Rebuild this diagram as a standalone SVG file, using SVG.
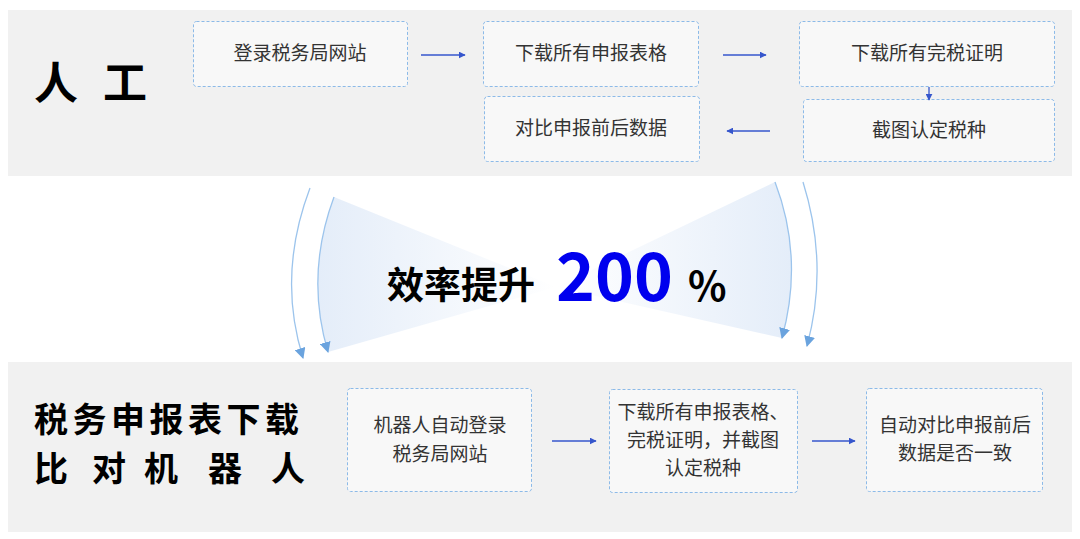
<svg xmlns="http://www.w3.org/2000/svg" width="1080" height="539" viewBox="0 0 1080 539">
<defs>
<style>
.panel{fill:#f1f1f1}
.box{fill:#f8f8f8;stroke:#8cbae8;stroke-width:1;stroke-dasharray:3 2}
.t{font-family:"Noto Sans CJK SC","Noto Sans",sans-serif;font-size:19px;fill:#333;text-anchor:middle}
.title{font-family:"Noto Sans CJK SC",sans-serif;font-weight:bold;fill:#000}
.conn{stroke:#3656cc;stroke-width:1.3;fill:none;marker-end:url(#ah)}
.arc{stroke:#9cc4ec;stroke-width:1.3;fill:none;marker-end:url(#ah2)}
</style>
<marker id="ah" viewBox="0 0 10 10" refX="9" refY="5" markerWidth="7" markerHeight="7" markerUnits="userSpaceOnUse" orient="auto"><path d="M0,0 L10,5 L0,10 Z" fill="#3656cc"/></marker>
<marker id="ah2" viewBox="0 0 10 10" refX="9" refY="5" markerWidth="11" markerHeight="11" markerUnits="userSpaceOnUse" orient="auto"><path d="M0,0 L10,5 L0,10 Z" fill="#6aa3de"/></marker>
<linearGradient id="gl" gradientUnits="userSpaceOnUse" x1="318" y1="0" x2="556" y2="0"><stop offset="0" stop-color="#e4edf9"/><stop offset="1" stop-color="#ffffff"/></linearGradient>
<linearGradient id="gr" gradientUnits="userSpaceOnUse" x1="791" y1="0" x2="556" y2="0"><stop offset="0" stop-color="#e4edf9"/><stop offset="1" stop-color="#ffffff"/></linearGradient>
</defs>
<rect width="1080" height="539" fill="#ffffff"/>
<rect class="panel" x="8" y="10" width="1064" height="166"/>
<rect class="panel" x="8" y="362" width="1064" height="170"/>

<g id="bowtie">
<path d="M334,197 L556,287 L328,352 Q305,275 334,197 Z" fill="url(#gl)"/>
<path d="M775,182 L556,287 L782,338 Q804,258 775,182 Z" fill="url(#gr)"/>
</g>

<g id="title-manual"><text class="title" font-size="44" x="34 78 103" y="99">人 工</text></g>
<g id="title-robot">
<text class="title" font-size="34" y="432" letter-spacing="4.5" x="34">税务申报表下载</text>
<text class="title" font-size="34" y="481" x="34 68 92 126 144 178 208 242 271">比 对 机 器 人</text>
</g>

<g id="m1"><rect class="box" x="193.5" y="21.5" width="214" height="65" rx="3"/><text class="t" x="300" y="60">登录税务局网站</text></g>
<g id="m2"><rect class="box" x="483.5" y="21.5" width="215" height="65" rx="3"/><text class="t" x="591" y="60">下载所有申报表格</text></g>
<g id="m3"><rect class="box" x="799.5" y="21.5" width="255" height="65" rx="3"/><text class="t" x="927" y="60">下载所有完税证明</text></g>
<g id="m4"><rect class="box" x="803.5" y="99.5" width="251" height="62" rx="3"/><text class="t" x="929" y="137">截图认定税种</text></g>
<g id="m5"><rect class="box" x="484.5" y="96.5" width="215" height="65" rx="3"/><text class="t" x="591" y="135">对比申报前后数据</text></g>

<g id="r1"><rect class="box" x="347.5" y="388.5" width="184" height="103" rx="3"/><text class="t" x="440" y="432">机器人自动登录</text><text class="t" x="440" y="461">税务局网站</text></g>
<g id="r2"><rect class="box" x="609.5" y="389.5" width="188" height="103" rx="3"/><text class="t" font-size="18" x="703" y="419">下载所有申报表格、</text><text class="t" font-size="18" x="703" y="447">完税证明，并截图</text><text class="t" font-size="18" x="703" y="475">认定税种</text></g>
<g id="r3"><rect class="box" x="866.5" y="388.5" width="176" height="103" rx="3"/><text class="t" x="955" y="432">自动对比申报前后</text><text class="t" x="955" y="460">数据是否一致</text></g>

<g id="connectors">
<line class="conn" x1="421" y1="55" x2="465" y2="55"/>
<line class="conn" x1="723" y1="55" x2="766" y2="55"/>
<line class="conn" x1="929" y1="87" x2="929" y2="100"/>
<line class="conn" x1="770" y1="131" x2="727" y2="131"/>
<line class="conn" x1="552" y1="441" x2="596" y2="441"/>
<line class="conn" x1="812" y1="441" x2="855" y2="441"/>
<path class="arc" d="M310,188 Q277,275 303,358"/>
<path class="arc" d="M334,197 Q305,275 328,352"/>
<path class="arc" d="M775,182 Q804,258 782,338"/>
<path class="arc" d="M803,182 Q829,265 807,346"/>
</g>

<g id="efficiency">
<text class="title" font-size="37" x="387" y="299">效率提升</text>
<text font-family="Noto Sans CJK SC,sans-serif" font-weight="bold" font-size="66" fill="#0000ee" x="556" y="301">200</text>
<text class="title" font-size="40" x="688" y="301">%</text>
</g>
</svg>
